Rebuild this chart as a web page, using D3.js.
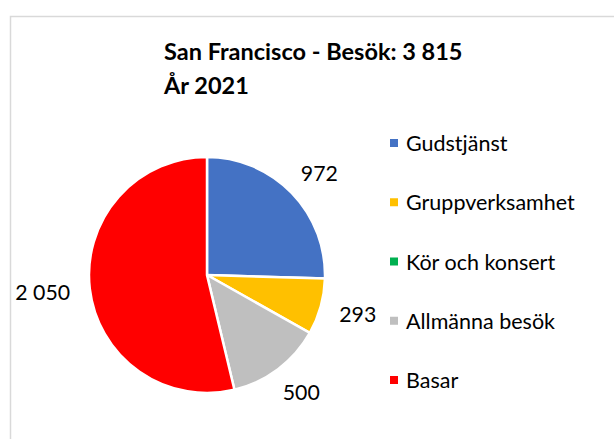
<!DOCTYPE html>
<html><head><meta charset="utf-8">
<script src="https://cdn.jsdelivr.net/npm/d3@7"></script>
<style>body{margin:0;background:#fff}svg{display:block}</style>
</head><body>
<svg id="c" width="614" height="439"></svg>
<script>
const categories = ["Gudstjänst","Gruppverksamhet","Kör och konsert","Allmänna besök","Basar"];
const values = [972, 293, 0, 500, 2050];
const colors = ["#4472C4","#FFC000","#00B050","#BFBFBF","#FF0000"];
const valueLabels = ["972","293","","500","2 050"];
const titleLines = ["San Francisco - Besök: 3 815","År 2021"];

const svg = d3.select("#c");
const FONT = "Lato, 'Open Sans', sans-serif";
svg.append("rect").attr("x",10.5).attr("y",16.5).attr("width",700).attr("height",500)
  .attr("fill","#fff").attr("stroke","#d9d9d9").attr("stroke-width",1.5);

const title = svg.append("text").attr("font-family",FONT).attr("font-weight","bold")
  .attr("font-size",23.5).attr("fill","#000");
titleLines.forEach((t,i)=>title.append("tspan").attr("x",164).attr("y",60+i*33.5).text(t));

const cx=207, cy=275, r=118;
const g = svg.append("g").attr("transform",`translate(${cx},${cy})`);
const data = categories.map((c,i)=>({cat:c,value:values[i],color:colors[i],label:valueLabels[i]}));
const pie = d3.pie().sort(null).value(d=>d.value);
const arcs = pie(data);
const arc = d3.arc().innerRadius(0).outerRadius(r);
g.selectAll("path").data(arcs.filter(d=>d.data.value>0)).join("path")
  .attr("d",arc).attr("fill",d=>d.data.color).attr("stroke","#fff").attr("stroke-width",2.5)
  .attr("stroke-linejoin","miter");

const R0 = 138;
const lab = g.selectAll("text.lab").data(arcs.filter(d=>d.data.value>0)).join("text")
  .attr("class","lab").attr("font-family",FONT).attr("font-size",21.3).attr("fill","#000")
  .attr("text-anchor","middle").attr("dominant-baseline","central")
  .text(d=>d.data.label);
lab.each(function(d){
  const a=(d.startAngle+d.endAngle)/2;
  const w=this.getComputedTextLength()/2, h=9;
  const x=Math.sin(a)*R0 + w*Math.sin(a);
  const y=-Math.cos(a)*R0 - h*Math.cos(a);
  d3.select(this).attr("x",x).attr("y",y);
});

const legY = d3.scalePoint().domain(categories).range([143,380]);
const leg = svg.selectAll("g.leg").data(data).join("g").attr("class","leg")
  .attr("transform",d=>`translate(390,${legY(d.cat)})`);
leg.append("rect").attr("x",0).attr("y",-4).attr("width",8).attr("height",8).attr("fill",d=>d.color);
leg.append("text").attr("x",16).attr("y",0).attr("dominant-baseline","central")
  .attr("font-family",FONT).attr("font-size",21.5).attr("fill","#000").text(d=>d.cat);
</script>
</body></html>
